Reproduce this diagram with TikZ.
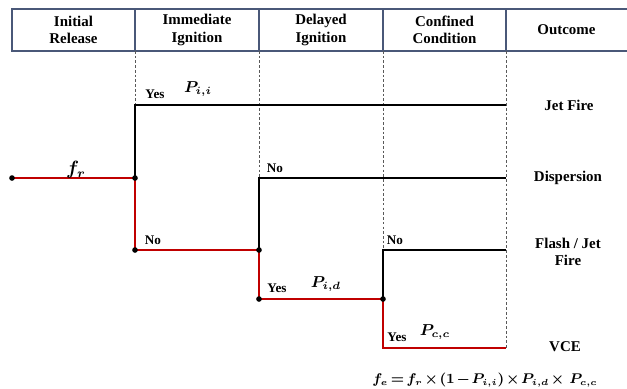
\documentclass[tikz,border=0pt]{standalone}
\usepackage{fontspec}
\setmainfont{Liberation Serif}
\usepackage{amsmath}
\usepackage{bm}
\usetikzlibrary{calc}
\definecolor{hdrblue}{HTML}{4A5878}
\definecolor{pathred}{HTML}{C00000}

\begin{document}
\begin{tikzpicture}[x=0.02cm,y=-0.02cm,
    hdr/.style={font=\fontsize{8.5}{10}\selectfont\bfseries, align=center},
    outc/.style={font=\fontsize{8.5}{10}\selectfont\bfseries, align=center},
    lbl/.style={font=\fontsize{7.5}{9}\selectfont\bfseries, inner sep=0pt},
    prob/.style={font=\fontsize{9}{10}\selectfont, inner sep=0pt},
    guide/.style={gray!70!black, line width=0.4pt, dash pattern=on 1.5pt off 1.2pt},
    branch/.style={line width=0.9pt},
    dot/.style={circle, fill=black, inner sep=0pt, minimum size=3.2pt}]
  \useasboundingbox (0,0) rectangle (627,389);
  % header
  \draw[hdrblue, line width=1pt] (630,9) -- (12,9) -- (12,51) -- (630,51);
  \foreach \x in {135,259,383,506}
    \draw[hdrblue, line width=1pt] (\x,9) -- (\x,51);
  \node[hdr] (h1) at (73.5,30) {Initial\\Release};
  \node[hdr] (h2) at (197,30) {Immediate\\Ignition};
  \node[hdr] (h3) at (321,30) {Delayed\\Ignition};
  \node[hdr] (h4) at (444.5,30) {Confined\\Condition};
  \node[hdr] (h5) at (566.5,30) {Outcome};

  % branch points
  \coordinate (s) at (12,178);
  \coordinate (ii) at (135,178);
  \coordinate (iiY) at (135,105);
  \coordinate (iiN) at (135,250);
  \coordinate (di) at (259,250);
  \coordinate (diN) at (259,178);
  \coordinate (diY) at (259,299);
  \coordinate (cc) at (383,299);
  \coordinate (ccN) at (383,250);
  \coordinate (ccY) at (383,348);
  \coordinate (jf) at (506,105);
  \coordinate (dp) at (506,178);
  \coordinate (fj) at (506,250);
  \coordinate (vce) at (506,348);

  % column guides
  \draw[guide] (135,51) -- (iiY);
  \draw[guide] (259,51) -- (diN);
  \draw[guide] (383,51) -- (ccN);
  \draw[guide] (506,51) -- (vce);

  % branches
  \draw[branch] (ii) -- (iiY) -- (jf);
  \draw[branch] (di) -- (diN) -- (dp);
  \draw[branch] (cc) -- (ccN) -- (fj);
  \draw[branch, pathred] (s) -- (ii) -- (iiN) -- (di) -- (diY) -- (cc) -- (ccY) -- (vce);
  \foreach \p in {s,ii,iiN,di,diY,cc}
    \node[dot] at (\p) {};

  % labels
  \node[prob, font=\fontsize{10.5}{12}\selectfont] (fr) at (76,170) {$\bm{f_r}$};
  \node[lbl] (y1) at (155,94) {Yes};
  \node[prob] (pii) at (198,89) {$\bm{P_{i,i}}$};
  \node[lbl] (n1) at (153,240) {No};
  \node[lbl] (n2) at (275,168) {No};
  \node[lbl] (y2) at (277,288) {Yes};
  \node[prob] (pid) at (326,284) {$\bm{P_{i,d}}$};
  \node[lbl] (n3) at (395,240) {No};
  \node[lbl] (y3) at (397,337) {Yes};
  \node[prob] (pcc) at (435,332) {$\bm{P_{c,c}}$};

  % outcomes
  \node[outc] (o1) at (569,105) {Jet Fire};
  \node[outc] (o2) at (568,178) {Dispersion};
  \node[outc] (o3) at (568,252) {Flash / Jet\\Fire};
  \node[outc] (o4) at (565,347) {VCE};

  \node[prob, font=\fontsize{7.8}{9}\selectfont] (fe) at (485,380)
    {\medmuskip=2mu \thickmuskip=3mu
     $\bm{f_e = f_r \times (1 - P_{i,i}) \times P_{i,d} \times\ P_{c,c}}$};
\end{tikzpicture}
\end{document}
